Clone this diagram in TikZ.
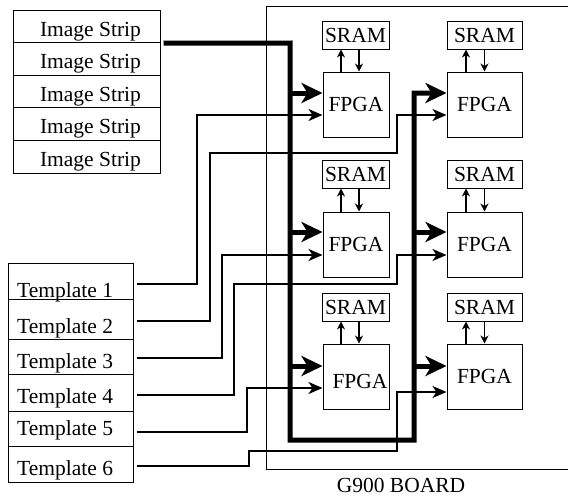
\documentclass[tikz,border=0pt]{standalone}
\usepackage{fontspec}
\setmainfont{Liberation Serif}
\usetikzlibrary{arrows.meta,calc}
\newcommand\diagfont{\fontsize{21.5}{24}\selectfont}
\begin{document}
\begin{tikzpicture}[x=1pt,y=-1pt,
  box/.style={draw, line width=1pt, inner sep=0pt},
  fpgaL/.style={box, minimum width=66pt, minimum height=65pt, font=\diagfont},
  fpgaR/.style={box, minimum width=75pt, minimum height=65pt, font=\diagfont},
  sramL/.style={box, minimum width=67pt, minimum height=28pt, font=\diagfont},
  sramR/.style={box, minimum width=75pt, minimum height=28pt, font=\diagfont},
  icell/.style={box, minimum width=147pt, minimum height=32.6pt},
  tcell/.style={box, minimum width=125pt},
  lbl/.style={inner sep=0pt, font=\diagfont},
  bus/.style={line width=5pt, line join=miter, -{Stealth[length=21pt,width=20pt,inset=6pt]}},
  conn/.style={line width=2pt, line join=miter, -{Stealth[length=14pt,width=12pt,inset=4pt]}},
  memarrow/.style={line width=1.1pt, -{Stealth[length=8pt,width=8pt,inset=2.5pt]}}]
\useasboundingbox (0,0) rectangle (568,498);

% board
\draw[line width=0.9pt] (570,6) -- (266,6) -- (266,469) -- (570,469);
\node[lbl, anchor=base] (board) at (401,492.5) {G900 BOARD};

% image strips
\foreach \i/\y in {1/26.3, 2/58.9, 3/91.5, 4/124.1, 5/156.7} {
  \node[icell] (i\i) at (86.5,\y) {};
}
\foreach \i/\y in {1/36, 2/68.5, 3/101, 4/133.5, 5/166} {
  \node[lbl, anchor=base] (li\i) at (90.5,\y) {Image Strip};
}

% templates
\node[tcell, minimum height=36pt] (t1) at (70.5,281) {};
\node[tcell, minimum height=40pt] (t2) at (70.5,319) {};
\node[tcell, minimum height=35pt] (t3) at (70.5,356.5) {};
\node[tcell, minimum height=37pt] (t4) at (70.5,392.5) {};
\node[tcell, minimum height=35pt] (t5) at (70.5,428.5) {};
\node[tcell, minimum height=36pt] (t6) at (70.5,464) {};
\node[lbl, anchor=base west] (lt1) at (17,297) {Template 1};
\node[lbl, anchor=base west] (lt2) at (17,333) {Template 2};
\node[lbl, anchor=base west] (lt3) at (17,368) {Template 3};
\node[lbl, anchor=base west] (lt4) at (17,403) {Template 4};
\node[lbl, anchor=base west] (lt5) at (17,435) {Template 5};
\node[lbl, anchor=base west] (lt6) at (17,475) {Template 6};

% FPGAs and SRAMs
\node[fpgaL] (f11) at (356,104.5) {FPGA};
\node[fpgaL] (f12) at (356,244.5) {FPGA};
\node[fpgaL] (f13) at (356,376.5) {};
\node[lbl, anchor=base] (f13t) at (360,388) {FPGA};
\node[fpgaR] (f21) at (484.5,104.5) {FPGA};
\node[fpgaR] (f22) at (484.5,244.5) {FPGA};
\node[fpgaR] (f23) at (484.5,376.5) {FPGA};

\node[sramL] (s11) at (355.5,35) {SRAM};
\node[sramL] (s12) at (355.5,174) {SRAM};
\node[sramL] (s13) at (355.5,307) {SRAM};
\node[sramR] (s21) at (484.5,35) {SRAM};
\node[sramR] (s22) at (484.5,174) {SRAM};
\node[sramR] (s23) at (484.5,307) {SRAM};

\foreach \k in {1,2,3} {
  \draw[memarrow] ([xshift=-15pt]f1\k.north) -- ([xshift=-15pt]f1\k.north |- s1\k.south);
  \draw[memarrow] ([xshift=3pt]f1\k.north |- s1\k.south) -- ([xshift=3pt]f1\k.north);
  \draw[memarrow] ([xshift=-18.5pt]f2\k.north) -- ([xshift=-18.5pt]f2\k.north |- s2\k.south);
  \draw[memarrow] ([xshift=0pt]f2\k.north |- s2\k.south) -- ([xshift=0pt]f2\k.north);
}

% template connectors
\draw[conn] ($(t1.east)+(3,3)$) -| (197,115) -- (f11.west |- 0,115);
\draw[conn] ($(t2.east)+(3,2)$) -| (210,153) -| (397,115) -- (f21.west |- 0,115);
\draw[conn] ($(t3.east)+(3,1.5)$) -| (222,255) -- (f12.west |- 0,255);
\draw[conn] ($(t4.east)+(3,2.5)$) -| (234,284) -| (397,255) -- (f22.west |- 0,255);
\draw[conn] ($(t5.east)+(3,3.5)$) -| (247,388) -- (f13.west |- 0,388);
\draw[conn] ($(t6.east)+(3,2)$) -| (249,451) -| (397,392) -- (f23.west |- 0,392);

% image bus
\draw[bus] ([xshift=3pt]i1.south east) -- (290,43) -- (290,440) -- (414,440) -- (414,93) -- (f21.west |- 0,93);
\draw[bus] (290,93) -- (f11.west |- 0,93);
\draw[bus] (290,232) -- (f12.west |- 0,232);
\draw[bus] (290,366) -- (f13.west |- 0,366);
\draw[bus] (414,232) -- (f22.west |- 0,232);
\draw[bus] (414,366) -- (f23.west |- 0,366);
\end{tikzpicture}
\end{document}
